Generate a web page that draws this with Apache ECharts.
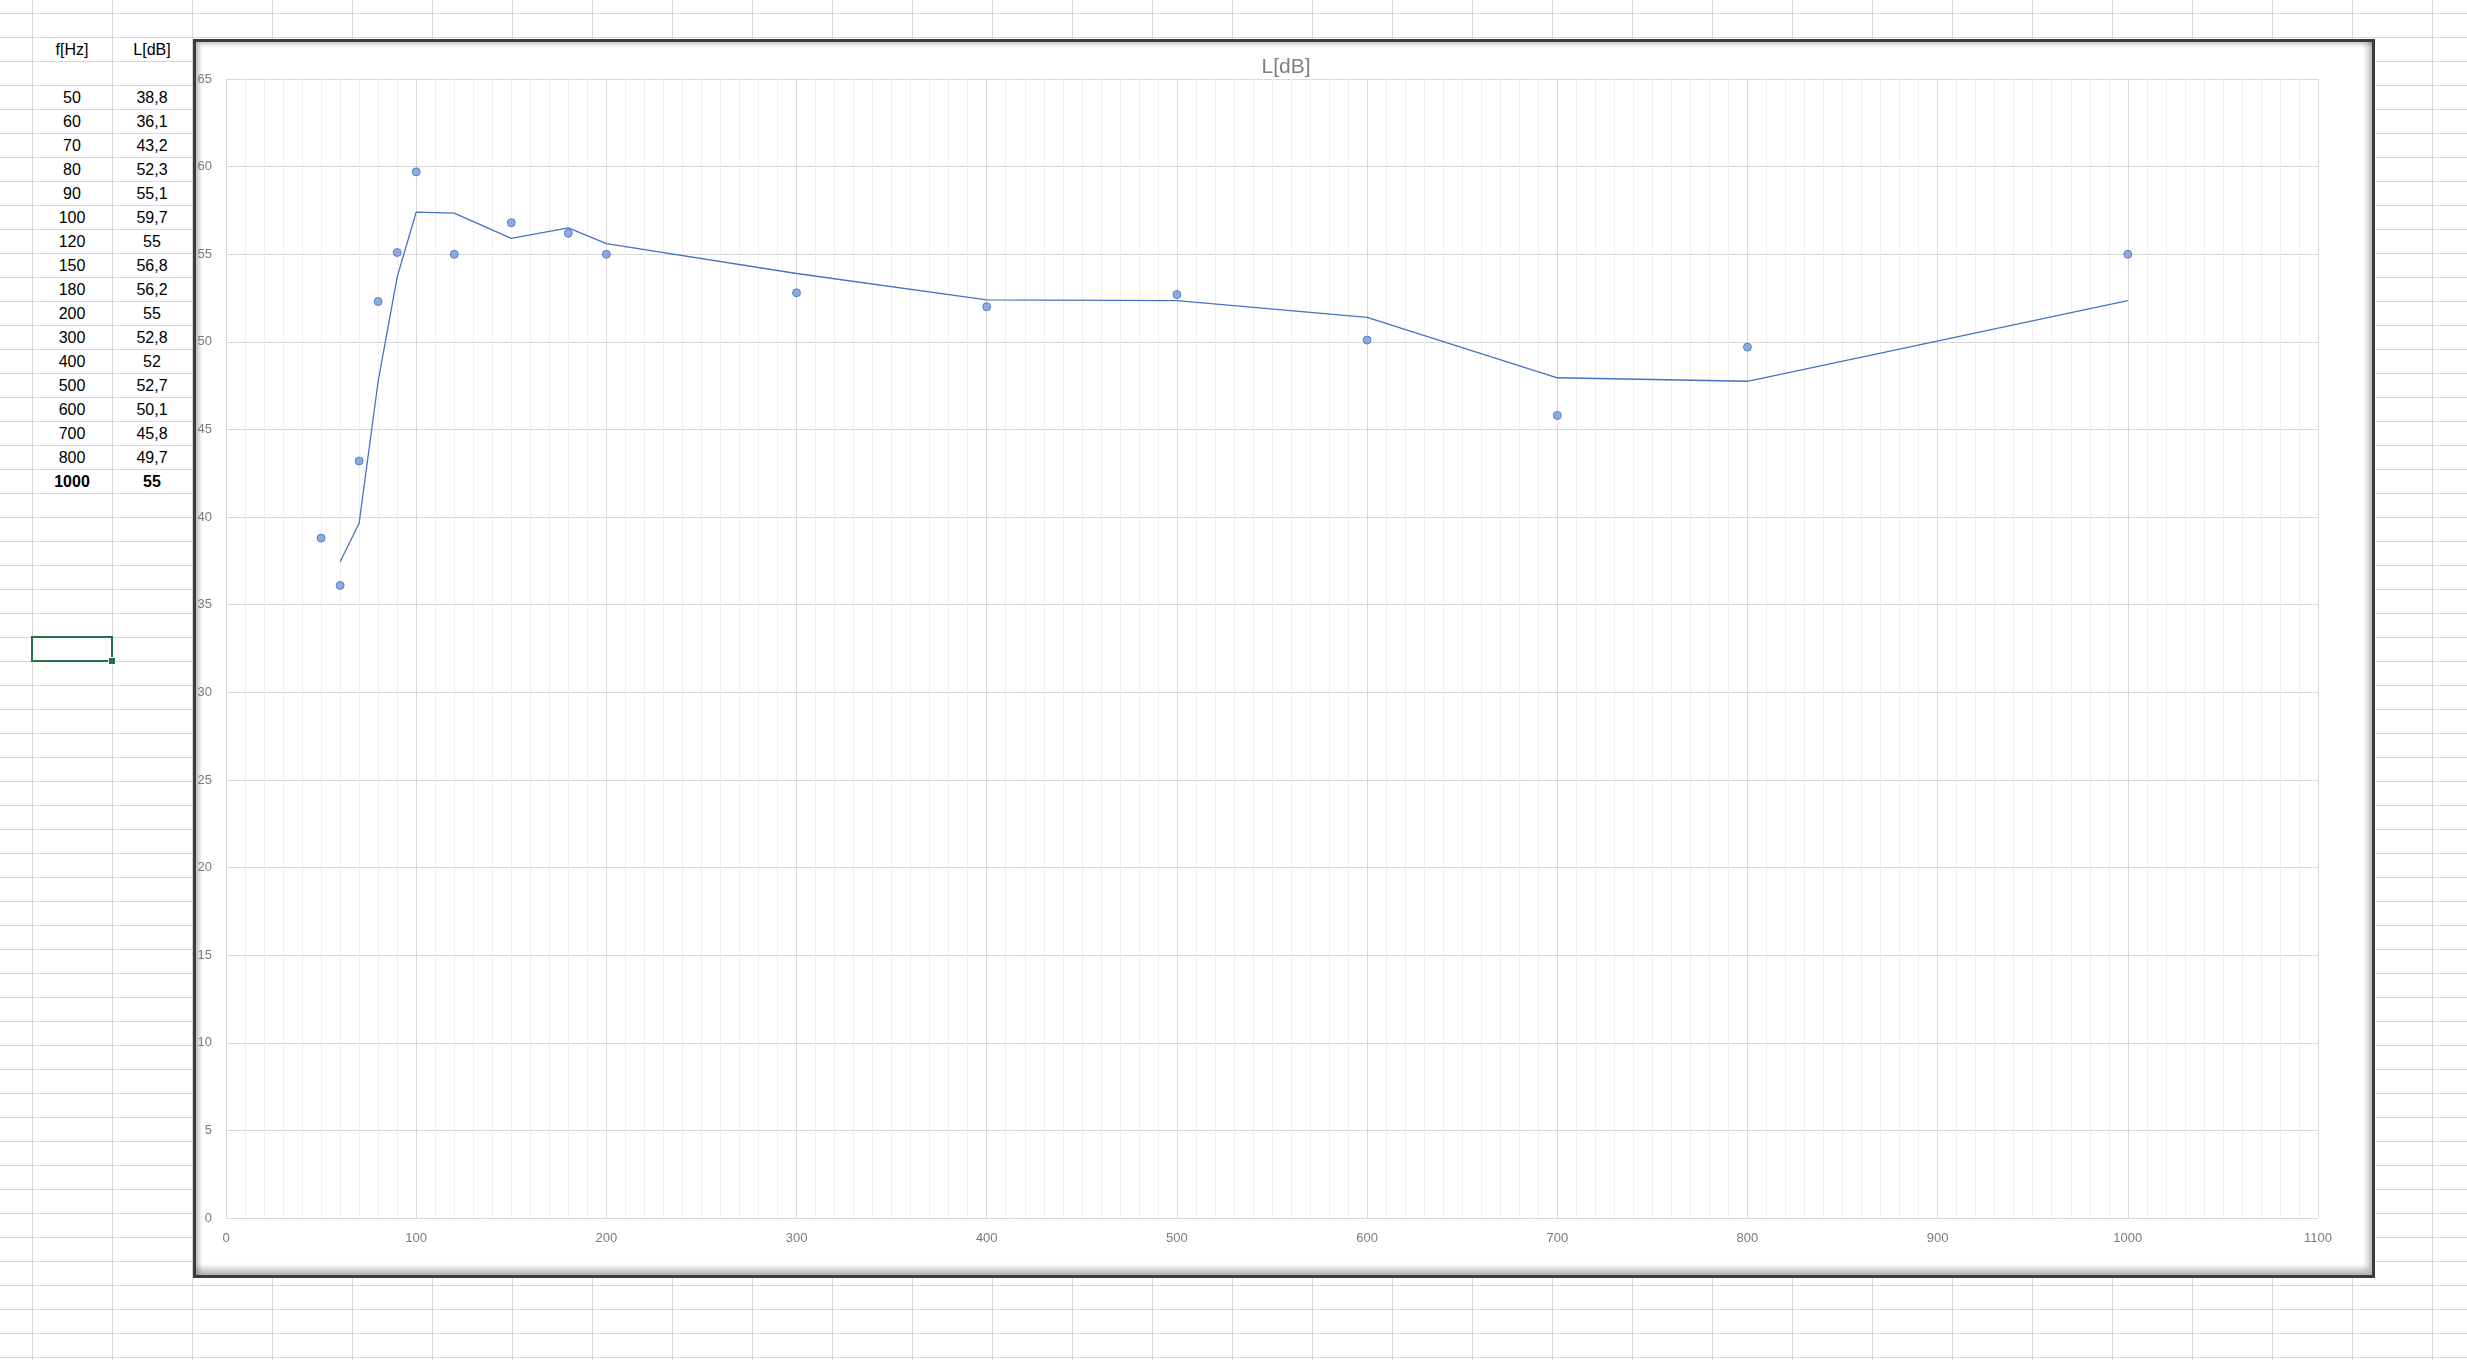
<!DOCTYPE html>
<html>
<head>
<meta charset="utf-8">
<script src="https://cdn.jsdelivr.net/npm/echarts@6/dist/echarts.min.js"></script>
<style>
  html, body { margin: 0; padding: 0; }
  body {
    width: 2467px; height: 1360px; overflow: hidden; position: relative;
    background-color: #ffffff;
    background-image:
      linear-gradient(to right, #d6d6d6 1px, transparent 1px),
      linear-gradient(to bottom, #d6d6d6 1px, transparent 1px);
    background-size: 80px 24px;
    background-position: 32px 13px;
    font-family: "Liberation Sans", Arial, sans-serif;
  }
  .cell {
    position: absolute; width: 80px; height: 24px; line-height: 26px;
    text-align: center; font-size: 16px; color: #000;
  }
  .bold { font-weight: bold; }
  #sel {
    position: absolute; left: 31px; top: 636px; width: 78px; height: 22px;
    border: 2px solid #217346;
  }
  #sel:after {
    content: ""; position: absolute; right: -5px; bottom: -5px;
    width: 6px; height: 6px; background: #217346; border: 1px solid #fff;
  }
  #frame {
    position: absolute; left: 193px; top: 39px; width: 2182px; height: 1239px;
    box-sizing: border-box; background: #ffffff;
    border: 3px solid #3c3c3c;
    box-shadow: inset -4px -6px 6px rgba(0,0,0,0.28), inset 3px 2px 4px rgba(0,0,0,0.25);
  }
  #chart { position: absolute; left: 0; top: 0; width: 2467px; height: 1360px; }
</style>
</head>
<body>
<div id="table"></div>
<div id="sel"></div>
<div id="frame"></div>
<div id="chart"></div>
<script>
// Measured data (table + scatter points)
var headers = ["f[Hz]", "L[dB]"];
var freq = [50, 60, 70, 80, 90, 100, 120, 150, 180, 200, 300, 400, 500, 600, 700, 800, 1000];
var level = [38.8, 36.1, 43.2, 52.3, 55.1, 59.7, 55, 56.8, 56.2, 55, 52.8, 52, 52.7, 50.1, 45.8, 49.7, 55];
// Trend line (2-period moving average)
var trendFreq = [60, 70, 80, 90, 100, 120, 150, 180, 200, 300, 400, 500, 600, 700, 800, 1000];
var trendLevel = [37.45, 39.65, 47.75, 53.7, 57.4, 57.35, 55.9, 56.5, 55.6, 53.9, 52.4, 52.35, 51.4, 47.95, 47.75, 52.35];
var chartTitle = "L[dB]";

// Spreadsheet cells
var tbl = document.getElementById("table");
function addCell(col, row, text, bold) {
  var d = document.createElement("div");
  d.className = "cell" + (bold ? " bold" : "");
  d.style.left = (32 + 80 * col) + "px";
  d.style.top = (13 + 24 * row) + "px";
  d.textContent = text;
  tbl.appendChild(d);
}
addCell(0, 1, headers[0]);
addCell(1, 1, headers[1]);
for (var i = 0; i < freq.length; i++) {
  var last = i === freq.length - 1;
  addCell(0, 3 + i, String(freq[i]), last);
  addCell(1, 3 + i, String(level[i]).replace(".", ","), last);
}

var chart = echarts.init(document.getElementById("chart"), null, { renderer: "canvas" });
var labelFont = { color: "#7a7a7a", fontSize: 13, fontFamily: "Liberation Sans, Arial, sans-serif",
  formatter: function (v) { return String(v); } };
chart.setOption({
  backgroundColor: "transparent",
  animation: false,
  title: {
    text: chartTitle, left: 1281, top: 52, textAlign: "center",
    textStyle: { color: "#7f7f7f", fontSize: 21, fontWeight: "normal", fontFamily: "Liberation Sans, Arial, sans-serif" }
  },
  grid: { left: 226, top: 79, width: 2092, height: 1139, containLabel: false },
  xAxis: {
    type: "value", min: 0, max: 1100, interval: 100,
    axisLine: { show: false }, axisTick: { show: false },
    axisLabel: Object.assign({ margin: 14, showMinLabel: true, showMaxLabel: true }, labelFont),
    splitLine: { show: true, lineStyle: { color: "#d9d9d9", width: 1 } },
    minorTick: { show: false, splitNumber: 10 },
    minorSplitLine: { show: true, lineStyle: { color: "#efefef", width: 1 } }
  },
  yAxis: {
    type: "value", min: 0, max: 65, interval: 5,
    axisLine: { show: false }, axisTick: { show: false },
    axisLabel: Object.assign({ margin: 14, showMinLabel: true, showMaxLabel: true }, labelFont),
    splitLine: { show: true, lineStyle: { color: "#d9d9d9", width: 1 } }
  },
  series: [
    {
      type: "line",
      data: trendFreq.map(function (f, k) { return [f, trendLevel[k]]; }),
      showSymbol: false, symbol: "none", smooth: false,
      lineStyle: { color: "#4472c4", width: 1.3 },
      z: 2
    },
    {
      type: "scatter",
      data: freq.map(function (f, k) { return [f, level[k]]; }),
      symbol: "circle", symbolSize: 8,
      itemStyle: { color: "#7396d8", borderColor: "#4470c2", borderWidth: 1 },
      z: 3
    }
  ]
});
</script>
</body>
</html>
